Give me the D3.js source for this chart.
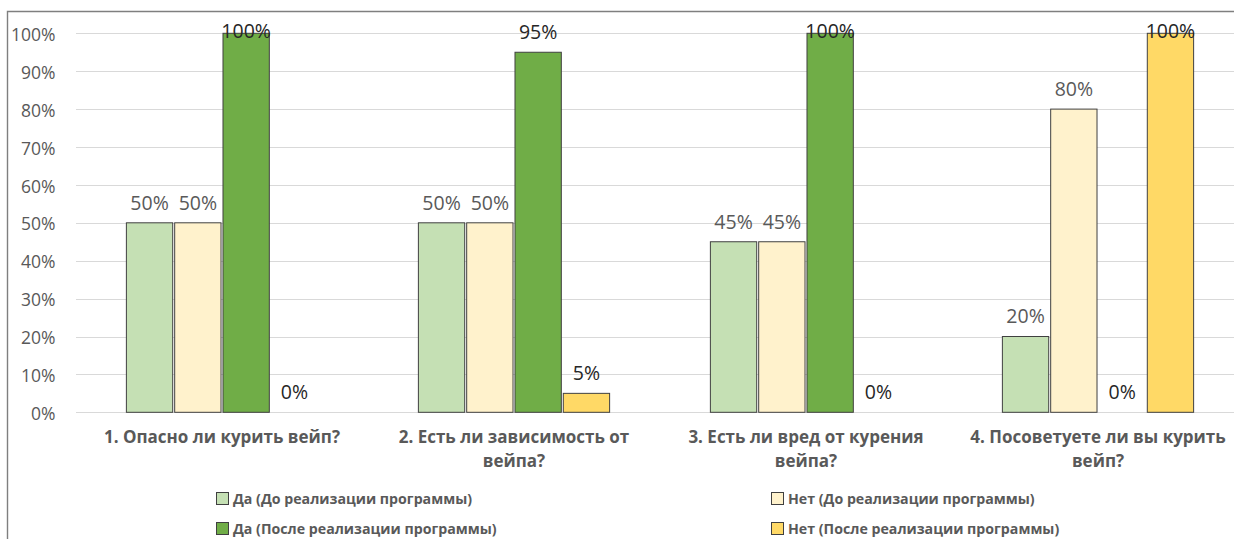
<!DOCTYPE html>
<html>
<head>
<meta charset="utf-8">
<script src="https://cdn.jsdelivr.net/npm/d3@7"></script>
<style>
  html, body { margin: 0; padding: 0; background: #fff; }
  svg { display: block; }
</style>
</head>
<body>
<svg id="chart" width="1234" height="539"></svg>
<script>
const categories = [
  "1. Опасно ли курить вейп?",
  "2. Есть ли зависимость от\nвейпа?",
  "3. Есть ли вред от курения\nвейпа?",
  "4. Посоветуете ли вы курить\nвейп?"
];
const seriesNames = [
  "Да (До реализации программы)",
  "Нет (До реализации программы)",
  "Да (После реализации программы)",
  "Нет (После реализации программы)"
];
const daBefore  = [0.50, 0.50, 0.45, 0.20];
const netBefore = [0.50, 0.50, 0.45, 0.80];
const daAfter   = [1.00, 0.95, 1.00, 0.00];
const netAfter  = [0.00, 0.05, 0.00, 1.00];
const seriesValues = [daBefore, netBefore, daAfter, netAfter];
const yTicks = [0, 0.1, 0.2, 0.3, 0.4, 0.5, 0.6, 0.7, 0.8, 0.9, 1.0];
const colors = ["#C5E0B4", "#FFF2CC", "#70AD47", "#FFD966"];
const labelColors = ["#595959", "#595959", "#262626", "#262626"];

const svg = d3.select("#chart");
const font = "'Open Sans', 'Noto Sans', sans-serif";

// frame
svg.append("path")
  .attr("d", "M7.5,545 L7.5,11.5 L1240,11.5")
  .attr("fill", "none").attr("stroke", "#7f7f7f").attr("stroke-width", 1.4);

const plotLeft = 76, step = 292;
const x0 = d3.scaleBand().domain(categories).range([plotLeft, plotLeft + step * categories.length]);
const x1 = d3.scaleBand().domain(seriesNames).range([0, x0.bandwidth()])
  .paddingInner(0.041).paddingOuter(1.043);
const y = d3.scaleLinear().domain([0, 1]).range([412.3, 33.3]);

// gridlines
svg.append("g").selectAll("line").data(yTicks).join("line")
  .attr("x1", plotLeft).attr("x2", 1234)
  .attr("y1", d => Math.round(y(d)) + 0.5).attr("y2", d => Math.round(y(d)) + 0.5)
  .attr("stroke", "#d9d9d9").attr("stroke-width", 1);

// y axis labels via d3 axis
const yAxis = d3.axisLeft(y).tickValues(yTicks).tickFormat(d3.format(".0%")).tickSize(0).tickPadding(0);
const yg = svg.append("g").attr("transform", "translate(55.5,1.5)").call(yAxis);
yg.select(".domain").remove();
yg.selectAll("text").attr("fill", "#595959").style("font-family", font).style("font-size", "17.5px");

// bars
const groups = svg.append("g").selectAll("g").data(categories).join("g")
  .attr("transform", d => `translate(${x0(d)},0)`);

groups.each(function(cat, ci) {
  const g = d3.select(this);
  seriesNames.forEach((s, si) => {
    const v = seriesValues[si][ci];
    if (v > 0) {
      g.append("rect")
        .attr("x", x1(s)).attr("width", x1.bandwidth())
        .attr("y", y(v)).attr("height", y(0) - y(v))
        .attr("fill", colors[si]).attr("stroke", "#404040").attr("stroke-width", 1);
    }
  });
  seriesNames.forEach((s, si) => {
    const v = seriesValues[si][ci];
    g.append("text")
      .attr("x", x1(s) + x1.bandwidth() / 2)
      .attr("y", Math.max(y(v) - 20, 31))
      .attr("dy", "0.35em")
      .attr("text-anchor", "middle")
      .attr("fill", labelColors[si])
      .style("font-family", font).style("font-size", "19.5px")
      .text(d3.format(".0%")(v));
  });
});

// category labels
svg.append("g").selectAll("text").data(categories).join("text")
  .attr("x", d => x0(d) + x0.bandwidth() / 2)
  .attr("y", 437)
  .attr("text-anchor", "middle")
  .attr("fill", "#595959")
  .style("font-family", font).style("font-size", "17px").style("font-weight", "bold")
  .each(function(d) {
    const t = d3.select(this);
    d.split("\n").forEach((line, i) => {
      t.append("tspan").attr("x", x0(d) + x0.bandwidth() / 2)
        .attr("dy", i === 0 ? "0.35em" : "24px").text(line);
    });
  });

// legend
const legendX = [216, 771];
const legendY = [499, 529];
const legend = svg.append("g");
seriesNames.forEach((s, i) => {
  const lx = legendX[i % 2], ly = legendY[Math.floor(i / 2)];
  legend.append("rect")
    .attr("x", lx + 0.5).attr("y", ly - 6.5).attr("width", 12).attr("height", 12)
    .attr("fill", colors[i]).attr("stroke", "#404040").attr("stroke-width", 1);
  legend.append("text")
    .attr("x", lx + 17).attr("y", ly).attr("dy", "0.35em")
    .attr("fill", "#595959")
    .style("font-family", font).style("font-size", "14.2px").style("font-weight", "bold")
    .text(s);
});
</script>
</body>
</html>
